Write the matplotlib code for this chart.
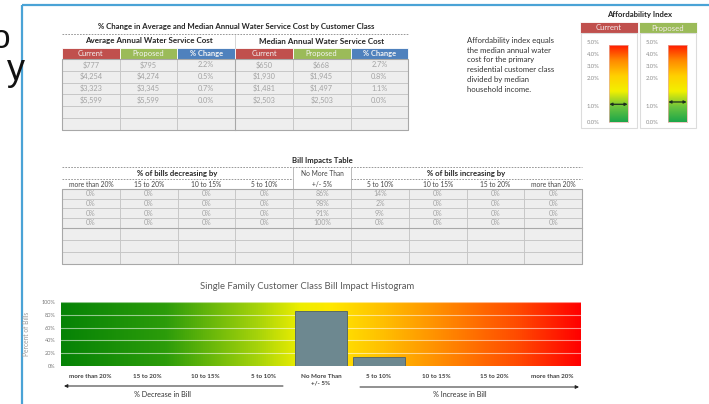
import numpy as np
import matplotlib
matplotlib.use("Agg")
import matplotlib.pyplot as plt
from matplotlib.patches import Rectangle
from matplotlib.colors import LinearSegmentedColormap

plt.rcParams['font.family'] = ['Lato', 'DejaVu Sans']

# ---------------- data ----------------
cost_title = "% Change in Average and Median Annual Water Service Cost by Customer Class"
cost_groups = ["Average Annual Water Service Cost", "Median Annual Water Service Cost"]
cost_columns = ["Current", "Proposed", "% Change"]
avg_current = [777, 4254, 3323, 5599]
avg_proposed = [795, 4274, 3345, 5599]
avg_change = [2.2, 0.5, 0.7, 0.0]
med_current = [650, 1930, 1481, 2503]
med_proposed = [668, 1945, 1497, 2503]
med_change = [2.7, 0.8, 1.1, 0.0]

impact_title = "Bill Impacts Table"
impact_bins = ["more than 20%", "15 to 20%", "10 to 15%", "5 to 10%", "+/- 5%",
               "5 to 10%", "10 to 15%", "15 to 20%", "more than 20%"]
impact_class1 = [0, 0, 0, 0, 86, 14, 0, 0, 0]
impact_class2 = [0, 0, 0, 0, 98, 2, 0, 0, 0]
impact_class3 = [0, 0, 0, 0, 91, 9, 0, 0, 0]
impact_class4 = [0, 0, 0, 0, 100, 0, 0, 0, 0]

hist_title = "Single Family Customer Class Bill Impact Histogram"
hist_labels = ["more than 20%", "15 to 20%", "10 to 15%", "5 to 10%", "No More Than\n+/- 5%",
               "5 to 10%", "10 to 15%", "15 to 20%", "more than 20%"]
hist_values = impact_class1
hist_yticks = [0, 20, 40, 60, 80, 100]

afford_note = ("Affordability index equals\nthe median annual water\ncost for the primary\n"
               "residential customer class\ndivided by median\nhousehold income.")
afford_labels = ["5.0%", "4.0%", "3.0%", "2.0%", "1.0%", "0.0%"]
afford_current = 1.15
afford_proposed = 1.3

# ---------------- styling ----------------
RED, GREEN, BLUE = "#c0504d", "#9bbb59", "#4f81bd"
CELL_FC, CELL_EC, CELL_TXT = "#eeeeee", "#c4c4c4", "#a3a3a3"
HEAD_TXT = "#262626"

fig = plt.figure(figsize=(7.09, 4.04), dpi=100)
ax = fig.add_axes([0, 0, 1, 1])
ax.set_xlim(0, 709)
ax.set_ylim(404, 0)
ax.axis("off")


def cell(x0, y0, w, h, fc, ec=CELL_EC, lw=0.6, z=1):
    ax.add_patch(Rectangle((x0, y0), w, h, facecolor=fc, edgecolor=ec, lw=lw, zorder=z))


# slide frame and the slide heading running in from the left
ax.plot([22, 709], [5, 5], color="#4aa3d6", lw=1.6, solid_capstyle="butt")
ax.plot([22, 22], [5, 404], color="#4aa3d6", lw=1.6, solid_capstyle="butt")
ax.text(10, 48, "o", fontsize=24, family="Liberation Sans", ha="right", va="baseline", color="#111")
ax.text(25, 80, "y", fontsize=26, family="Liberation Sans", ha="right", va="baseline", color="#111")

# ---------------- cost table ----------------
cx0, cw = 62, 57.7
ax.text(236, 29, cost_title, fontsize=5.6, fontweight="bold", ha="center", va="baseline", color=HEAD_TXT)
ax.plot([62, 408], [34, 34], color="#888", lw=0.6, ls=(0, (2, 1.5)))
for g, name in enumerate(cost_groups):
    ax.text(cx0 + cw * (3 * g + 1.5), 43.5, name, fontsize=5.8, fontweight="bold",
            ha="center", va="baseline", color=HEAD_TXT)
ax.plot([cx0 + 3 * cw] * 2, [35, 48], color="#cfcfcf", lw=0.6)

head_colors = [RED, GREEN, BLUE, RED, GREEN, BLUE]
for j in range(6):
    cell(cx0 + j * cw, 48, cw, 11, head_colors[j], ec="white", lw=0.6)
    ax.text(cx0 + (j + 0.5) * cw, 53.8, cost_columns[j % 3], fontsize=5.4, ha="center", va="center",
            color="#f4f4f4", fontweight="bold" if j % 3 == 2 else "normal")

cost_cols = [[f"${v:,}" for v in avg_current], [f"${v:,}" for v in avg_proposed],
             [f"{v:.1f}%" for v in avg_change], [f"${v:,}" for v in med_current],
             [f"${v:,}" for v in med_proposed], [f"{v:.1f}%" for v in med_change]]
rh = 11.8
for i in range(6):
    for j in range(6):
        cell(cx0 + j * cw, 59 + i * rh, cw, rh, CELL_FC)
        if i < len(avg_current):
            ax.text(cx0 + (j + 0.5) * cw, 59 + (i + 0.5) * rh, cost_cols[j][i], fontsize=5.3,
                    ha="center", va="center", color=CELL_TXT, zorder=3)
ax.add_patch(Rectangle((cx0, 59), 6 * cw, 6 * rh, fill=False, ec="#a8a8a8", lw=0.8, zorder=4))
ax.plot([cx0 + 3 * cw] * 2, [59, 59 + 6 * rh], color="#a8a8a8", lw=0.8, zorder=4)

# ---------------- affordability ----------------
ax.text(467, 37, afford_note, fontsize=5.6, ha="left", va="top", color="#333", linespacing=1.45)
ax.text(640, 17, "Affordability Index", fontsize=5.6, fontweight="bold", ha="center", va="baseline", color=HEAD_TXT)
afford_cmap = LinearSegmentedColormap.from_list(
    "afford", ["#1ca64a", "#6cc43e", "#f2f000", "#ffd000", "#ff8a00", "#ff1a00"])
label_rows = [43, 55, 67, 79, 107, 122]
for k, (name, color, val) in enumerate([("Current", RED, afford_current),
                                         ("Proposed", GREEN, afford_proposed)]):
    px = 580 + k * 59
    cell(px, 22, 58, 11, color, ec="white")
    ax.text(px + 29, 28, name, fontsize=5.6, ha="center", va="center", color="#f4eaea")
    ax.add_patch(Rectangle((px + 1, 33), 56, 95, fill=False, ec="#dcdcdc", lw=0.8))
    for lab, yy in zip(afford_labels, label_rows):
        ax.text(px + 13, yy, lab, fontsize=4.2, ha="center", va="center", color="#8c8c8c")
    bax = fig.add_axes([(px + 29) / 709, 1 - 122 / 404, 19 / 709, 77 / 404])
    grad = np.linspace(0, 1, 256).reshape(-1, 1)
    bax.imshow(grad, extent=(0, 1, 0, 5), origin="lower", aspect="auto", cmap=afford_cmap)
    bax.set_xlim(0, 1)
    bax.set_ylim(0, 5)
    bax.set_xticks([])
    bax.set_yticks([])
    for s in bax.spines.values():
        s.set_color("#e8b0a8")
        s.set_linewidth(0.5)
    bax.annotate("", xy=(0.02, val), xytext=(0.98, val),
                 arrowprops=dict(arrowstyle="<|-|>", color="#1d2e1d", lw=0.9, mutation_scale=4,
                                 shrinkA=0, shrinkB=0))

# ---------------- bill impacts table ----------------
tx0, tw = 62, 57.8
ax.text(322, 163.5, impact_title, fontsize=5.6, fontweight="bold", ha="center", va="baseline", color=HEAD_TXT)
ax.plot([tx0, tx0 + 9 * tw], [167, 167], color="#888", lw=0.6, ls=(0, (2, 1.5)))
ax.text(tx0 + 2 * tw, 176, "% of bills decreasing by", fontsize=5.6, fontweight="bold",
        ha="center", va="baseline", color=HEAD_TXT)
ax.text(tx0 + 7 * tw, 176, "% of bills increasing by", fontsize=5.6, fontweight="bold",
        ha="center", va="baseline", color=HEAD_TXT)
ax.plot([tx0, tx0 + 4 * tw], [179, 179], color="#888", lw=0.6, ls=(0, (2, 1.5)))
ax.plot([tx0 + 5 * tw, tx0 + 9 * tw], [179, 179], color="#888", lw=0.6, ls=(0, (2, 1.5)))
ax.plot([tx0 + 4 * tw] * 2, [167, 189], color="#b0b0b0", lw=0.6)
ax.plot([tx0 + 5 * tw] * 2, [167, 189], color="#b0b0b0", lw=0.6)
ax.text(tx0 + 4.5 * tw, 174, "No More Than", fontsize=4.8, ha="center", va="center", color="#444")
for j, lab in enumerate(impact_bins):
    ax.text(tx0 + (j + 0.5) * tw, 184.5, lab, fontsize=4.8, ha="center", va="center", color="#444")

impact_rows = [impact_class1, impact_class2, impact_class3, impact_class4]
row_edges = [189, 198.7, 208.4, 218.1, 227.8, 239.8, 251.8, 263.8]
for i in range(len(row_edges) - 1):
    for j in range(9):
        cell(tx0 + j * tw, row_edges[i], tw, row_edges[i + 1] - row_edges[i], CELL_FC)
        if i < len(impact_rows):
            ax.text(tx0 + (j + 0.5) * tw, (row_edges[i] + row_edges[i + 1]) / 2,
                    f"{impact_rows[i][j]}%", fontsize=5.0, ha="center", va="center",
                    color=CELL_TXT, zorder=3)
ax.add_patch(Rectangle((tx0, 189), 9 * tw, 263.8 - 189, fill=False, ec="#a8a8a8", lw=0.8, zorder=4))
ax.plot([tx0, tx0 + 9 * tw], [227.8, 227.8], color="#a8a8a8", lw=0.8, zorder=4)

# ---------------- histogram ----------------
ax.text(307, 289, hist_title, fontsize=6.8, ha="center", va="baseline", color="#595959")
hax = fig.add_axes([61 / 709, 1 - 366 / 404, 520 / 709, 64 / 404])
hist_cmap = LinearSegmentedColormap.from_list(
    "impact", [(0.0, "#068306"), (0.2, "#2c9c0a"), (0.38, "#a8d40a"), (0.46, "#eeee00"),
               (0.52, "#ffe800"), (0.62, "#ffbf00"), (0.75, "#ff8400"), (0.88, "#ff4a00"),
               (1.0, "#ff0000")])
xg = np.linspace(0, 1, 512).reshape(1, -1)
hax.imshow(xg, extent=(-0.5, 8.5, 0, 100), aspect="auto", cmap=hist_cmap, zorder=0)
for v in hist_yticks[1:]:
    hax.axhline(v, color="white", alpha=0.55, lw=0.8, zorder=1)
xpos = np.arange(len(hist_values))
hax.bar(xpos, hist_values, width=0.9, color="#6d8890", edgecolor="#4c6068", lw=0.6, zorder=3)
hax.set_xlim(-0.5, 8.5)
hax.set_ylim(0, 100)
hax.set_yticks(hist_yticks)
hax.set_yticklabels([f"{v}%" for v in hist_yticks], fontsize=4.0, color="#7a7a7a")
hax.set_xticks(xpos)
hax.set_xticklabels(hist_labels, fontsize=4.5, fontweight="bold", color="#404040", linespacing=1.3)
hax.tick_params(length=0, pad=6)
hax.tick_params(axis="y", pad=4)
for s in hax.spines.values():
    s.set_visible(False)
hax.set_ylabel("Percent of Bills", fontsize=4.8, color="#9a9a9a")
hax.yaxis.set_label_coords(-31 / 520, 0.5)

ax.annotate("", xy=(64, 386), xytext=(283, 386),
            arrowprops=dict(arrowstyle="-|>", color="#222", lw=0.7, mutation_scale=5, shrinkA=0, shrinkB=0))
ax.annotate("", xy=(579, 387), xytext=(360, 387),
            arrowprops=dict(arrowstyle="-|>", color="#222", lw=0.7, mutation_scale=5, shrinkA=0, shrinkB=0))
ax.text(162, 397, "% Decrease in Bill", fontsize=5.2, ha="center", va="baseline", color="#333")
ax.text(460, 397, "% Increase in Bill", fontsize=5.2, ha="center", va="baseline", color="#333")

fig.savefig("out.png", dpi=100)
